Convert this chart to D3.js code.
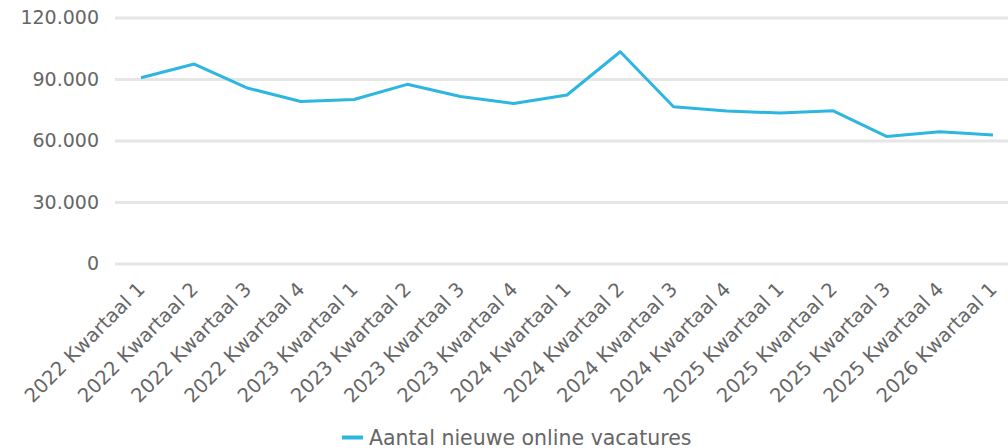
<!DOCTYPE html>
<html>
<head>
<meta charset="utf-8">
<script src="https://d3js.org/d3.v7.min.js"></script>
<style>
  body { margin: 0; background: #fff; }
  svg text { font-family: "DejaVu Sans", sans-serif; fill: #666; }
</style>
</head>
<body>
<svg id="chart" width="1008" height="448"></svg>
<script>
  // kwartalen
  var quarters = [
    "2022 Kwartaal 1", "2022 Kwartaal 2", "2022 Kwartaal 3", "2022 Kwartaal 4",
    "2023 Kwartaal 1", "2023 Kwartaal 2", "2023 Kwartaal 3", "2023 Kwartaal 4",
    "2024 Kwartaal 1", "2024 Kwartaal 2", "2024 Kwartaal 3", "2024 Kwartaal 4",
    "2025 Kwartaal 1", "2025 Kwartaal 2", "2025 Kwartaal 3", "2025 Kwartaal 4",
    "2026 Kwartaal 1"
  ]
  var vacatures = [
    90600, 97300, 85600, 79000,
    80000, 87400, 81500, 78000,
    82200, 103300, 76500, 74400,
    73400, 74500, 62000, 64300,
    62700
  ]
  var yTicks = [0, 30000, 60000, 90000, 120000]
  var seriesName = "Aantal nieuwe online vacatures"

  var width = 1008, height = 448
  var margin = { top: 17.5, right: 0, bottom: 184.5, left: 115 }

  var svg = d3.select("#chart")

  var x = d3.scalePoint()
    .domain(quarters)
    .range([141, 993])

  var y = d3.scaleLinear()
    .domain([0, 120000])
    .range([height - margin.bottom, margin.top])

  var fmt = function (d) { return d3.format(",")(d).replace(/,/g, ".") }

  // rasterlijnen + y-as
  svg.append("g")
    .attr("transform", `translate(${margin.left},0)`)
    .call(d3.axisLeft(y).tickValues(yTicks).tickSize(-(width - margin.left)).tickFormat(fmt).tickPadding(16))
    .call(g => g.select(".domain").remove())
    .call(g => g.selectAll(".tick line").attr("stroke", "#e6e6e6").attr("stroke-width", 3))
    .call(g => g.selectAll(".tick text").style("font-size", "19px"))

  // x-as labels
  svg.append("g")
    .attr("transform", `translate(0,${height - margin.bottom})`)
    .call(d3.axisBottom(x).tickSize(0).tickPadding(0))
    .call(g => g.select(".domain").remove())
    .call(g => g.selectAll(".tick text")
      .style("font-size", "19.5px")
      .attr("text-anchor", "end")
      .attr("dy", 0)
      .attr("transform", "translate(4.5,27) rotate(-45)"))

  var line = d3.line()
    .x((d, i) => x(quarters[i]))
    .y(d => y(d))

  svg.append("path")
    .datum(vacatures)
    .attr("fill", "none")
    .attr("stroke", "#2db6df")
    .attr("stroke-width", 3)
    .attr("stroke-linejoin", "round")
    .attr("d", line)

  // legenda
  var legend = svg.append("g").attr("transform", "translate(342,437.5)")
  legend.append("line")
    .attr("x1", 0).attr("x2", 21)
    .attr("stroke", "#2db6df").attr("stroke-width", 4)
  legend.append("text")
    .attr("x", 27)
    .attr("y", 7.5)
    .style("font-size", "20.5px")
    .text(seriesName)
</script>
</body>
</html>
